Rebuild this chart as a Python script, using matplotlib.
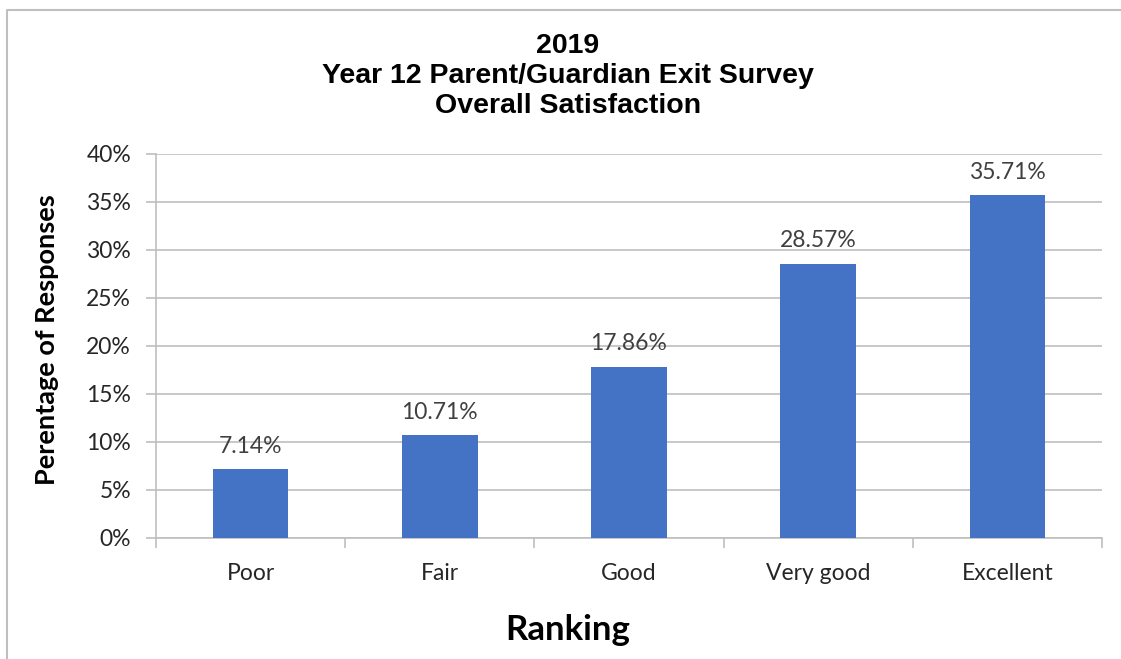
import matplotlib.pyplot as plt
from matplotlib.lines import Line2D
from matplotlib.ticker import PercentFormatter
import numpy as np

categories = ["Poor", "Fair", "Good", "Very good", "Excellent"]
percentages = [7.14, 10.71, 17.86, 28.57, 35.71]
yticks = [0, 5, 10, 15, 20, 25, 30, 35, 40]

bar_color = "#4472C4"
grid_color = "#BFBFBF"
text_color = "#404040"
label_font = ["Lato", "DejaVu Sans"]

fig = plt.figure(figsize=(11.21, 6.59), dpi=100)
ax = fig.add_axes([156 / 1121, 1 - 538 / 659, (1102 - 156) / 1121, (538 - 154) / 659])

x = np.arange(len(categories))
bars = ax.bar(x, percentages, width=0.4, color=bar_color, zorder=3)

# value labels above each bar
for xi, val in zip(x, percentages):
    ax.text(xi, val + 1.3, f"{val:.2f}%", ha="center", va="bottom",
            fontsize=16.5, color=text_color, family=label_font)

ax.set_xlim(-0.5, len(categories) - 0.5)
ax.set_ylim(0, 40)
ax.set_yticks(yticks)
ax.yaxis.set_major_formatter(PercentFormatter(decimals=0))
ax.grid(axis="y", color=grid_color, linewidth=1.2, zorder=0)

# category labels centred, tick marks on the boundaries
ax.set_xticks(x)
ax.set_xticklabels(categories)
ax.set_xticks(np.arange(len(categories) + 1) - 0.5, minor=True)
ax.tick_params(axis="x", which="major", length=0, pad=18)
ax.tick_params(axis="x", which="minor", length=7, color=grid_color, width=1.2)
ax.tick_params(axis="y", length=7, color=grid_color, width=1.2, pad=11)
for lbl in ax.get_xticklabels() + ax.get_yticklabels():
    lbl.set_fontsize(16.5)
    lbl.set_color("#262626")
    lbl.set_family(label_font)

for side in ["top", "right"]:
    ax.spines[side].set_visible(False)
for side in ["left", "bottom"]:
    ax.spines[side].set_color(grid_color)
    ax.spines[side].set_linewidth(1.2)

fig.text(568 / 1121, 1 - 76 / 659, "2019\nYear 12 Parent/Guardian Exit Survey\nOverall Satisfaction",
         ha="center", va="center", fontsize=20.5, fontweight="bold",
         family="Liberation Sans", linespacing=1.2)

fig.text(47 / 1121, 1 - 340 / 659, "Perentage of Responses", rotation=90,
         ha="center", va="center", fontsize=19.5, fontweight="bold", family=label_font)
fig.text(568 / 1121, 1 - 630 / 659, "Ranking", ha="center", va="center",
         fontsize=25, fontweight="bold", family=label_font)

# outer chart frame: only the top and left edges fall inside the image
fig.lines.append(Line2D([6.5 / 1121, 6.5 / 1121, 1.0], [0.0, 1 - 10 / 659, 1 - 10 / 659],
                        transform=fig.transFigure, color="#BFBFBF", linewidth=1.5))

fig.savefig("out.png", dpi=100)
